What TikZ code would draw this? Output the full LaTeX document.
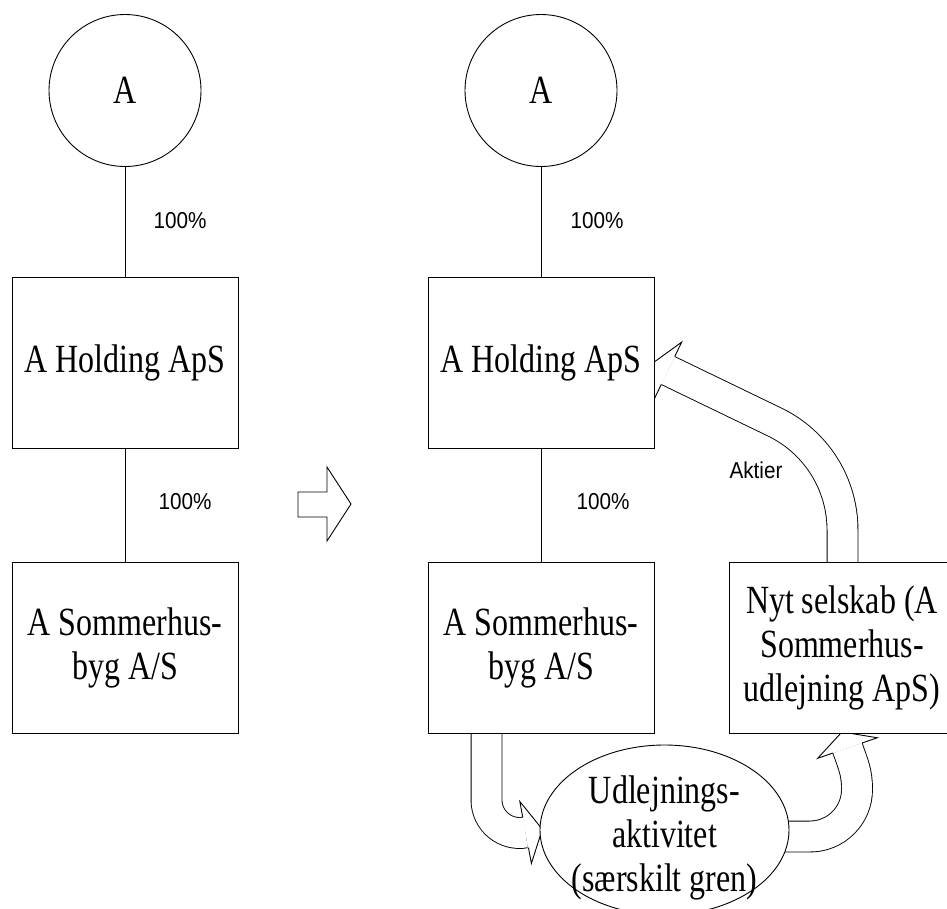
\documentclass[tikz,border=0pt]{standalone}
\usepackage{fontspec}
\setmainfont{Liberation Serif}[FakeStretch=0.8]
\newfontfamily\labelsans{Liberation Sans}[FakeStretch=0.9]
\usetikzlibrary{shapes.geometric,backgrounds}

% Head of a hollow block arrow: #1 = centre of its base, #2 = direction (degrees)
\newcommand\fathead[2]{%
  \begin{scope}[shift={(#1)}, rotate=#2]
    \filldraw[fill=white, draw=black, line width=0.9pt, line join=miter]
      (0,15.45) -- (0,31.5) -- (17,0) -- (0,-31.5) -- (0,-15.45);
  \end{scope}}

\begin{document}
\begin{tikzpicture}[x=1pt, y=-1pt, line width=0.9pt,
  bigtext/.style={font=\fontsize{40}{44}\selectfont},
  owner/.style={circle, draw, fill=white, minimum size=152pt, inner sep=0pt, bigtext},
  company/.style={rectangle, draw, fill=white, minimum width=226pt, minimum height=171pt,
                  inner sep=0pt, align=center, bigtext},
  branch/.style={ellipse, draw, fill=white, minimum width=249pt, minimum height=170pt, inner sep=0pt},
  branchtext/.style={align=center, inner sep=0pt, bigtext},
  share/.style={inner sep=0pt, font=\labelsans\fontsize{23}{26}\selectfont},
  fatshaft/.style={draw=black, line width=0.9pt, double=white, double distance=30pt, line cap=butt},
]
\useasboundingbox (0,0) rectangle (947,908);
\clip (0,0) rectangle (947,908);

% ---- before ----
\node[owner]   (aL)    at (125,90.5)  {A};
\node[company] (holdL) at (125,363)   {A Holding ApS};
\node[company] (byggL) at (125,647.5) {A Sommerhus-\\byg A/S};
\draw (aL) -- (holdL);
\draw (holdL) -- (byggL);
\node[share] (pAL) at (180,221) {100\%};
\node[share] (pHL) at (185,502) {100\%};

% ---- transition arrow ----
\draw[fill=white, line join=miter]
  (298,492) -- (327,492) -- (327,467) -- (351,504) -- (327,541) -- (327,517) -- (298,517) -- cycle;

% ---- after ----
\node[owner]   (aR)    at (541,90.5)  {A};
\node[company] (holdR) at (541,363)   {A Holding ApS};
\node[company] (byggR) at (541,647.5) {A Sommerhus-\\byg A/S};
\node[company] (nyt)   at (842,648)   {Nyt selskab (A\\Sommerhus-\\udlejning ApS)};
\node[branch]  (udl)   at (664.5,830) {};
\node[branchtext] (udltxt) at (664.5,838) {Udlejnings-\\aktivitet\\(særskilt gren)};
\draw (aR) -- (holdR);
\draw (holdR) -- (byggR);
\node[share] (pAR) at (597,221) {100\%};
\node[share] (pHR) at (603,502) {100\%};
\node[share] (akt) at (756,470) {Aktier};

% ---- block arrows, behind the boxes ----
\begin{pgfonlayer}{background}
  \coordinate (b1) at (525.6,832.4);
  \coordinate (b2) at (847.5,748);
  \coordinate (b3) at (668,370.5);
  % branch split off from A Sommerhusbyg
  \draw[fatshaft] (486.5,720) -- (486.5,800)
    .. controls (486.5,820.66) and (505.3,836.2) .. (b1);
  \fathead{b1}{10.6}
  % branch moved into the new company
  \draw[fatshaft] (760,836.5) -- (810,836.5)
    .. controls (835.96,836.5) and (857,815.46) .. (857,789.5)
    .. controls (857,772) and (853.5,765.5) .. (b2);
  \fathead{b2}{109}
  % shares of the new company to the holding company
  \draw[fatshaft] (842.5,575) -- (842.5,530)
    .. controls (842.5,483.9) and (816.1,442) .. (774.6,422) -- (b3);
  \fathead{b3}{154.3}
\end{pgfonlayer}
\end{tikzpicture}
\end{document}
